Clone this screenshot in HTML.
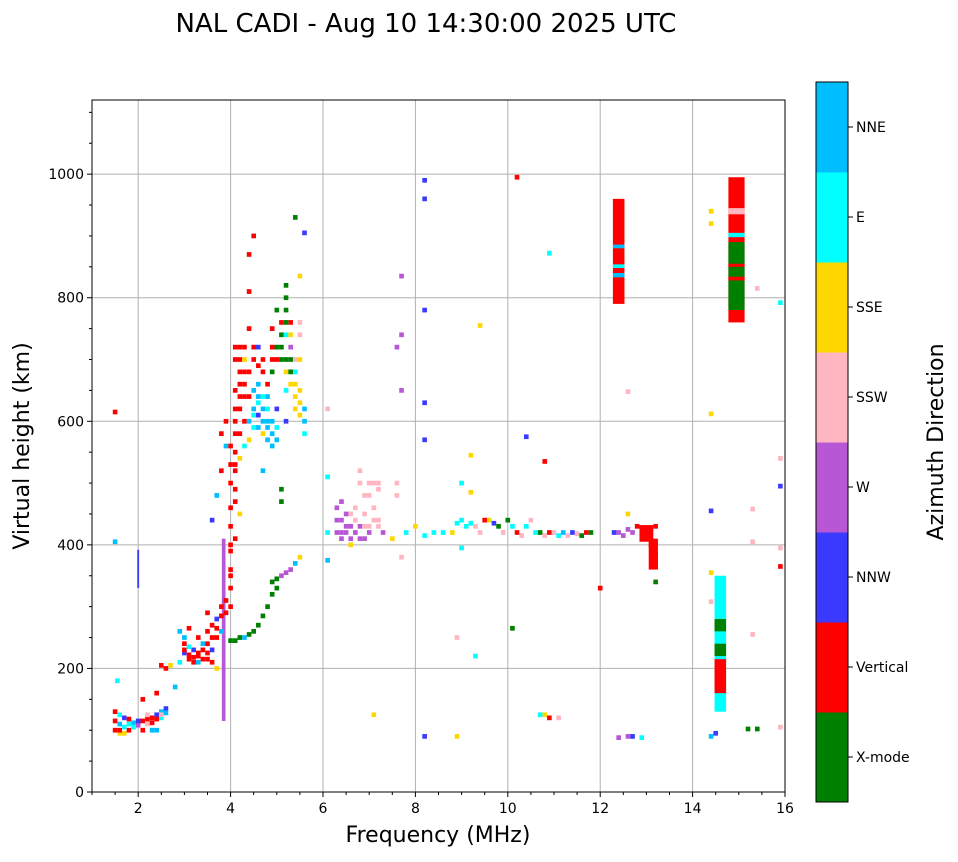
<!DOCTYPE html>
<html><head><meta charset="utf-8">
<style>
body{margin:0;background:#fff;width:958px;height:857px;overflow:hidden;font-family:"Liberation Sans","DejaVu Sans",sans-serif}
svg text{font-family:"DejaVu Sans","Liberation Sans",sans-serif}
</style></head>
<body>
<svg id="chart" width="958" height="857" xmlns="http://www.w3.org/2000/svg">
<text x="426" y="32" font-size="26" text-anchor="middle">NAL CADI - Aug 10 14:30:00 2025 UTC</text>
<g id="grid"></g>
<g id="marks"></g>
<g id="axes"></g>
<text x="438" y="842" font-size="22" text-anchor="middle">Frequency (MHz)</text>
<text transform="translate(29,446) rotate(-90)" font-size="22" text-anchor="middle">Virtual height (km)</text>
<g id="cbar"></g>
<text transform="translate(943,442) rotate(-90)" font-size="22" text-anchor="middle">Azimuth Direction</text>
</svg>
<script>
const directions=["X-mode","Vertical","NNW","W","SSW","SSE","E","NNE"];
const dirColors=["#008000","#ff0000","#3a3aff","#b857d6","#ffb6c1","#ffd700","#00ffff","#00bfff"];
const xTicks=[2,4,6,8,10,12,14,16];
const yTicks=[0,200,400,600,800,1000];
// point echoes: frequency (MHz), virtual height (km), direction index
const freqs=[
1.5,1.5,1.5,1.6,1.6,1.7,1.7,1.8,1.9,2.0,2.1,2.2,2.3,2.4,2.5,2.6,2.5,2.3,2.1,2.4,1.5,1.5,1.55,
2.5,2.6,2.7,2.8,2.9,3.0,3.0,3.1,3.2,3.2,3.3,3.4,3.4,3.5,3.5,3.6,3.6,3.7,3.7,3.8,3.8,3.9,3.5,3.3,3.1,2.9,3.7,3.6,3.7,3.8,3.8,3.9,3.9,
4.0,4.0,4.0,4.0,4.0,4.0,4.0,4.1,4.1,4.1,4.1,4.2,4.2,4.2,4.1,4.2,4.3,4.3,4.3,4.3,4.1,4.2,4.0,4.1,4.4,4.4,4.4,4.5,
4.0,4.1,4.2,4.3,4.4,4.5,4.6,4.7,4.8,4.9,5.0,5.1,5.2,5.3,5.4,5.5,4.9,5.0,5.1,5.1,
4.4,4.5,4.5,4.6,4.6,4.7,4.7,4.8,4.8,4.9,4.9,5.0,5.0,4.6,4.7,4.5,4.3,4.4,4.6,4.7,4.8,5.2,
5.1,5.1,5.2,5.2,5.2,5.1,5.2,5.3,5.3,5.3,5.4,5.4,5.4,5.5,5.5,5.5,5.5,5.6,5.6,5.2,5.0,5.3,5.0,4.9,4.9,5.4,5.6,5.5,
6.1,6.1,6.1,6.3,6.4,6.4,6.4,6.5,6.6,6.6,6.7,6.8,6.8,6.8,6.9,6.9,7.0,7.0,7.1,7.1,7.2,7.2,7.3,6.6,7.5,7.6,7.6,7.7,7.6,7.7,7.7,7.7,7.1,6.1,
7.8,8.0,8.2,8.4,8.6,8.8,8.9,9.0,9.1,9.2,9.3,9.4,9.5,9.6,9.7,9.8,9.9,10.0,10.1,10.2,10.3,10.4,10.5,10.6,10.7,10.8,10.9,11.0,11.1,11.2,11.3,11.4,11.5,11.6,11.7,11.8,
9.0,9.0,8.9,9.3,8.2,8.2,8.2,8.2,8.2,8.2,8.9,9.4,9.2,9.2,10.4,10.2,10.8,10.8,10.9,11.1,10.7,10.1,10.9,12.0,7.2,
12.3,12.4,12.5,12.6,12.7,12.8,12.9,13.0,13.1,13.2,13.2,13.2,13.2,12.6,12.6,12.6,12.4,12.9,12.7,
14.4,14.4,14.4,14.4,14.4,14.4,14.4,14.5,15.4,15.3,15.3,15.3,15.2,15.4,15.9,15.9,15.9,15.9,15.9,15.9,
1.6,1.7,1.8,1.9,2.0,2.1,2.2,2.3,2.4,2.5,2.6,1.6,1.8,2.2,2.4,
3.0,3.1,3.2,3.3,3.4,3.5,3.6,3.7,3.8,3.9,3.1,3.3,3.5,3.6,3.0,
4.1,4.1,4.2,4.2,4.3,4.3,4.1,4.2,4.0,4.1,4.0,4.0,4.1,4.2,
4.5,4.6,4.7,4.8,4.9,4.5,4.6,4.7,4.8,5.0,4.4,4.4,4.5,4.6,4.7,4.8,4.9,4.9,5.0,5.1,5.2,5.2,5.3,5.4,5.4,5.5,5.5,5.6,5.3,5.2,
6.3,6.3,6.5,6.5,6.6,6.7,6.7,6.8,6.9,7.0,7.0,7.1,7.2,6.9,6.4];
const heights=[
130,115,100,110,95,105,120,110,112,108,115,118,120,125,130,135,120,100,150,160,405,615,180,
205,200,205,170,260,240,225,215,210,230,220,215,240,225,260,230,270,250,280,300,260,290,290,250,265,210,200,440,480,520,580,560,600,
330,360,390,430,460,500,530,550,580,620,650,680,700,720,490,620,640,600,660,700,410,450,300,530,750,810,870,900,
245,245,250,250,255,260,270,285,300,320,345,350,355,360,370,380,340,330,470,490,
600,590,620,610,640,600,580,620,570,600,560,590,620,660,680,700,560,570,720,520,640,600,
700,740,780,800,820,760,680,700,720,660,640,620,680,740,760,700,630,600,580,740,700,760,780,750,720,930,905,835,
375,420,510,420,420,440,470,420,430,450,460,430,500,520,410,450,430,480,500,460,440,490,420,400,410,480,500,380,720,740,650,835,125,620,
420,430,415,420,420,420,435,440,430,435,430,420,440,440,435,430,420,440,430,420,415,430,440,420,420,415,420,420,415,420,415,420,418,415,420,420,
500,395,250,220,990,960,780,630,570,90,90,755,545,485,575,995,535,125,120,120,125,265,872,330,500,
420,420,415,425,420,430,420,410,400,385,370,340,430,450,648,90,88,88,90,
940,920,612,455,355,308,90,95,815,458,405,255,102,102,792,540,495,365,105,395,
100,95,118,105,115,100,110,112,118,125,128,125,100,125,100,
230,222,218,225,230,240,250,265,285,310,235,210,215,210,250,
700,720,660,640,680,720,600,580,560,520,400,350,470,540,
650,630,620,600,580,610,590,640,590,570,640,680,720,690,700,660,700,680,720,720,760,700,740,700,660,650,610,620,680,650,
440,460,430,450,410,420,440,410,430,420,500,440,430,480,410];
const dirs=[
1,1,1,7,5,6,2,6,7,3,1,1,1,2,7,2,6,7,1,1,7,1,6,
1,1,5,7,7,1,2,1,1,2,1,1,7,1,1,2,1,1,2,1,7,1,1,1,1,6,5,2,7,1,1,7,1,
1,1,1,1,1,1,1,1,1,1,1,1,1,1,1,1,1,1,1,5,1,5,1,1,1,1,1,1,
0,0,0,7,0,0,0,0,0,0,0,3,3,3,7,5,0,0,0,0,
7,6,7,2,7,7,5,6,7,7,7,6,2,7,1,1,6,5,2,7,7,2,
0,0,0,0,0,1,5,0,3,5,5,5,6,4,4,5,5,7,6,6,1,1,0,1,1,0,2,5,
7,6,6,3,3,3,3,3,3,4,4,3,4,4,3,4,4,4,4,4,4,4,3,5,5,4,4,4,3,3,3,3,5,4,
6,5,6,6,6,5,6,6,6,6,4,4,1,5,2,0,4,0,6,1,4,6,4,6,0,4,1,4,6,7,4,2,4,0,1,0,
6,6,4,6,2,2,2,2,2,2,5,5,5,5,2,1,1,5,1,4,6,0,6,1,4,
2,3,3,3,3,1,1,1,1,1,1,0,1,5,4,3,3,6,2,
5,5,5,2,5,4,7,2,4,4,4,4,0,0,6,4,2,1,4,4,
1,5,1,6,2,1,4,1,1,4,7,6,1,4,7,
1,1,1,1,1,1,1,1,1,1,6,7,1,1,7,
1,1,1,1,1,1,1,1,1,1,1,1,1,5,
7,6,7,7,7,6,7,6,7,7,1,1,1,1,1,1,1,0,0,0,0,0,5,4,5,5,5,7,0,6,
3,3,3,3,3,3,4,3,4,3,4,4,4,4,3];
// column echoes: frequency, bottom height, top height, direction, width (MHz)
const colFreqs=[3.85,12.4,12.4,12.4,12.4,14.6,14.6,14.6,14.6,14.95,14.95,14.95,14.95,14.95,14.95,13.15,13.0,2.0];
const colLow=[115,790,880,848,833,130,160,220,260,760,780,935,898,850,828,360,405,330];
const colHigh=[410,960,886,854,840,350,215,240,280,995,890,945,905,855,834,410,432,392];
const colDirs=[3,1,7,6,7,6,1,0,0,1,0,4,6,1,1,1,1,2];
const colWidths=[0.08,0.25,0.25,0.25,0.25,0.25,0.25,0.25,0.25,0.35,0.35,0.35,0.35,0.35,0.35,0.2,0.3,0.04];

const L=92,R=785,T=100,B=792,XMIN=1,XMAX=16,YMIN=0,YMAX=1120;
const xs=f=>L+(f-XMIN)/(XMAX-XMIN)*(R-L);
const ys=h=>B-(h-YMIN)/(YMAX-YMIN)*(B-T);
const NS="http://www.w3.org/2000/svg";
function mk(tag,attrs,parent){const e=document.createElementNS(NS,tag);for(const k in attrs)e.setAttribute(k,attrs[k]);parent.appendChild(e);return e;}
const grid=document.getElementById('grid'),marks=document.getElementById('marks'),axes=document.getElementById('axes'),cbar=document.getElementById('cbar');
xTicks.forEach(t=>{const g=mk('line',{x1:xs(t),x2:xs(t),y1:T,y2:B,stroke:'#b0b0b0','stroke-width':1},grid);

});
yTicks.forEach(t=>{const g=mk('line',{x1:L,x2:R,y1:ys(t),y2:ys(t),stroke:'#b0b0b0','stroke-width':1},grid);

});
for(let i=0;i<colFreqs.length;i++){
 const w=colWidths[i]/(XMAX-XMIN)*(R-L);
 const r=mk('rect',{x:xs(colFreqs[i])-w/2,y:ys(colHigh[i]),width:w,height:ys(colLow[i])-ys(colHigh[i]),fill:dirColors[colDirs[i]]},marks);
 
 
}
const cw=0.1/(XMAX-XMIN)*(R-L),ch=6/(YMAX-YMIN)*(B-T)+1;
for(let i=0;i<freqs.length;i++){
 const r=mk('rect',{x:xs(freqs[i])-cw/2,y:ys(heights[i])-ch/2,width:cw,height:ch,fill:dirColors[dirs[i]]},marks);
 
 
}
const frame=mk('rect',{x:L,y:T,width:R-L,height:B-T,fill:'none',stroke:'#000','stroke-width':1},axes);


xTicks.forEach(t=>{mk('line',{x1:xs(t),x2:xs(t),y1:B,y2:B+5,stroke:'#000'},axes);
 const tx=mk('text',{x:xs(t),y:B+21,'font-size':14,'text-anchor':'middle'},axes);tx.textContent=t;
 
 });
for(let f=1;f<=16;f+=0.5){if(!xTicks.includes(f))mk('line',{x1:xs(f),x2:xs(f),y1:B,y2:B+3,stroke:'#000'},axes);}
yTicks.forEach(t=>{mk('line',{x1:L-5,x2:L,y1:ys(t),y2:ys(t),stroke:'#000'},axes);
 const tx=mk('text',{x:L-8,y:ys(t)+5,'font-size':14,'text-anchor':'end'},axes);tx.textContent=t;
 
 });
for(let h=50;h<=1100;h+=50){if(!yTicks.includes(h))mk('line',{x1:L-3,x2:L,y1:ys(h),y2:ys(h),stroke:'#000'},axes);}
// colorbar
const CX=816,CW=32,CT=82,CB=802,seg=(CB-CT)/directions.length;
directions.forEach((d,i)=>{
 const y0=CB-(i+1)*seg;
 const r=mk('rect',{x:CX,y:y0,width:CW,height:seg+0.5,fill:dirColors[i]},cbar);
 
 
 mk('line',{x1:CX+CW,x2:CX+CW+5,y1:y0+seg/2,y2:y0+seg/2,stroke:'#000'},cbar);
 const tx=mk('text',{x:CX+CW+8,y:y0+seg/2+5,'font-size':14},cbar);tx.textContent=d;
 
 
});
const cf=mk('rect',{x:CX,y:CT,width:CW,height:CB-CT,fill:'none',stroke:'#000'},cbar);


</script>
</body></html>
